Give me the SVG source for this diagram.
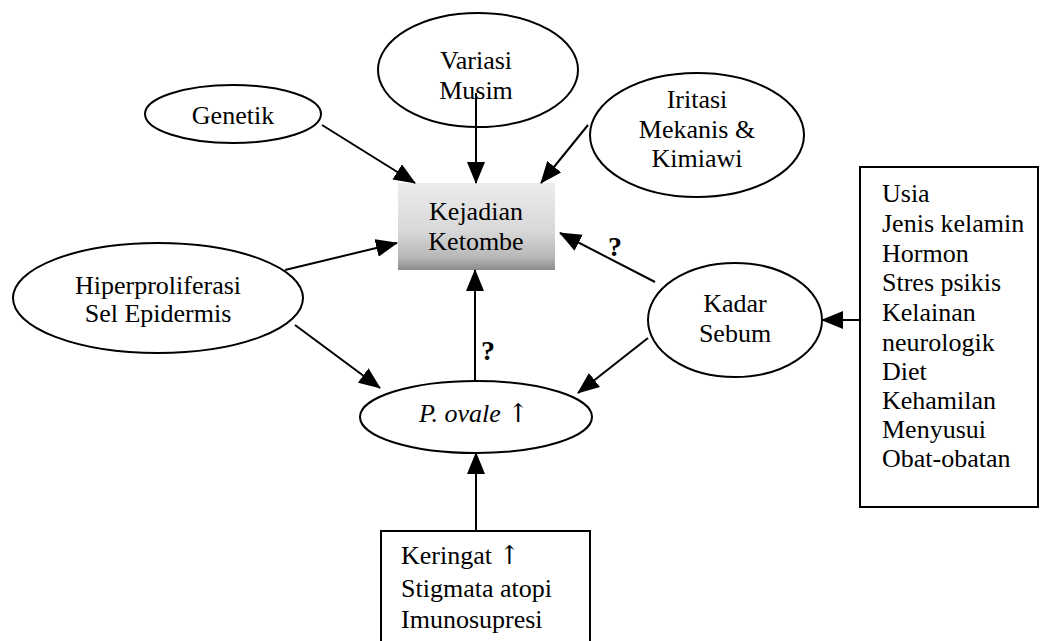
<svg xmlns="http://www.w3.org/2000/svg" width="1041" height="641" viewBox="0 0 1041 641">
<style>
.n{fill:#fff;stroke:#000;stroke-width:2}
.t{font-family:"Liberation Serif","Times New Roman",serif;font-size:26px;fill:#000}
.c{text-anchor:middle}
.ar{font-family:"DejaVu Serif","DejaVu Sans",serif;font-size:26px;fill:#000}
.q{font-family:"Liberation Serif","Times New Roman",serif;font-size:28px;font-weight:bold;fill:#000}
.e{stroke:#000;stroke-width:2;fill:none;marker-end:url(#ah)}
</style>
<defs>
<marker id="ah" markerUnits="userSpaceOnUse" markerWidth="22" markerHeight="18" refX="21" refY="9" orient="auto">
<path d="M0,0 L22,9 L0,18 z" fill="#000"/>
</marker>
<linearGradient id="g" x1="0" y1="0" x2="0" y2="1">
<stop offset="0" stop-color="#ececec"/>
<stop offset="0.55" stop-color="#d8d8d8"/>
<stop offset="0.85" stop-color="#b8b8b8"/>
<stop offset="1" stop-color="#8a8a8a"/>
</linearGradient>
</defs>
<rect width="1041" height="641" fill="#fff"/>
<g id="kejadian">
<rect x="398" y="183" width="157" height="87" fill="url(#g)"/>
<text class="t c" x="476" y="220">Kejadian</text>
<text class="t c" x="476" y="250">Ketombe</text>
</g>
<g id="genetik">
<ellipse class="n" cx="233" cy="114" rx="88" ry="29"/>
<text class="t c" x="233" y="124">Genetik</text>
</g>
<g id="variasi">
<ellipse class="n" cx="478" cy="70" rx="100" ry="57"/>
<text class="t c" x="476" y="69">Variasi</text>
<text class="t c" x="476" y="99">Musim</text>
</g>
<g id="iritasi">
<ellipse class="n" cx="697" cy="135" rx="107" ry="62"/>
<text class="t c" x="697" y="108">Iritasi</text>
<text class="t c" x="697" y="138">Mekanis &amp;</text>
<text class="t c" x="697" y="167">Kimiawi</text>
</g>
<g id="hiper">
<ellipse class="n" cx="158" cy="298" rx="145" ry="55"/>
<text class="t c" x="158" y="294">Hiperproliferasi</text>
<text class="t c" x="158" y="322">Sel Epidermis</text>
</g>
<g id="kadar">
<ellipse class="n" cx="735" cy="320" rx="87" ry="57"/>
<text class="t c" x="735" y="312">Kadar</text>
<text class="t c" x="735" y="342">Sebum</text>
</g>
<g id="povale">
<ellipse class="n" cx="476" cy="417" rx="116" ry="36"/>
<text class="t c" x="474" y="422"><tspan font-style="italic">P. ovale</tspan> <tspan class="ar">↑</tspan></text>
</g>
<g id="faktor-bawah">
<rect class="n" x="381" y="531" width="209" height="115"/>
<text class="t" x="401" y="564">Keringat <tspan class="ar">↑</tspan></text>
<text class="t" x="401" y="597">Stigmata atopi</text>
<text class="t" x="401" y="628">Imunosupresi</text>
</g>
<g id="faktor-kanan">
<rect class="n" x="860" y="167" width="178" height="340"/>
<text class="t" x="882" y="202">Usia</text>
<text class="t" x="882" y="232">Jenis kelamin</text>
<text class="t" x="882" y="262">Hormon</text>
<text class="t" x="882" y="291">Stres psikis</text>
<text class="t" x="882" y="321">Kelainan</text>
<text class="t" x="882" y="351">neurologik</text>
<text class="t" x="882" y="380">Diet</text>
<text class="t" x="882" y="409">Kehamilan</text>
<text class="t" x="882" y="438">Menyusui</text>
<text class="t" x="882" y="467">Obat-obatan</text>
</g>
<g id="connectors">
<line class="e" x1="322" y1="125" x2="415" y2="183"/>
<line class="e" x1="476" y1="93" x2="476" y2="183"/>
<line class="e" x1="588" y1="125" x2="541" y2="183"/>
<line class="e" x1="285" y1="270" x2="397" y2="243"/>
<line class="e" x1="295" y1="325" x2="380" y2="388"/>
<line class="e" x1="475" y1="381" x2="475" y2="270"/>
<line class="e" x1="655" y1="282" x2="560" y2="233"/>
<line class="e" x1="648" y1="338" x2="578" y2="393"/>
<line class="e" x1="476" y1="531" x2="476" y2="453"/>
<line class="e" x1="860" y1="320" x2="822" y2="320"/>
<text class="q" x="608" y="256">?</text>
<text class="q" x="481" y="360">?</text>
</g>
</svg>
